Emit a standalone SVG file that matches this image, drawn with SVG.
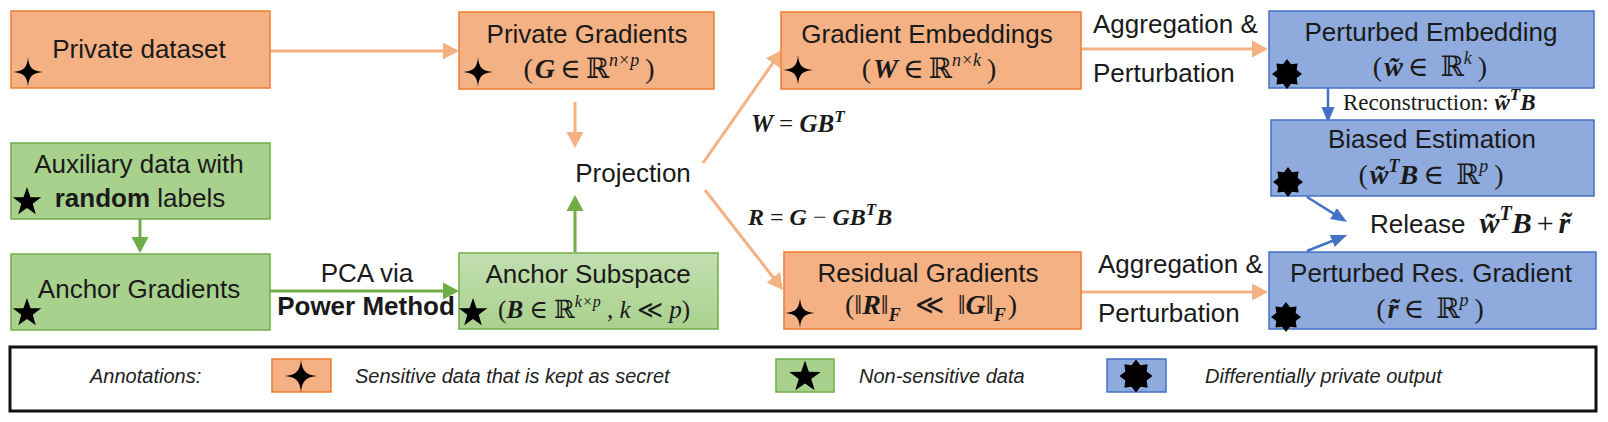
<svg xmlns="http://www.w3.org/2000/svg" width="1608" height="422" viewBox="0 0 1608 422">
<style>
.bo{fill:#F4B183;stroke:#ED7D31;stroke-width:1.5}
.bg{fill:#A9D18E;stroke:#70AD47;stroke-width:1.5}
.bb{fill:#8FAADC;stroke:#4472C4;stroke-width:1.5}
.t{font-family:"Liberation Sans",Arial,sans-serif;font-size:26px;fill:#1a1a1a}
.tb{font-weight:bold}
.m{font-family:"Liberation Serif","DejaVu Serif",serif;font-size:28px;fill:#1a1a1a}
.bi{font-weight:bold;font-style:italic}
.it{font-style:italic}
.sup{font-size:18px}
.lg{font-family:"Liberation Sans",Arial,sans-serif;font-size:20px;font-style:italic;fill:#222}
.co{stroke:#F4B183;stroke-width:3;fill:none}
.cg{stroke:#70AD47;stroke-width:3;fill:none}
.cb{stroke:#4472C4;stroke-width:2.5;fill:none}
</style>
<defs>
<marker id="ao" markerUnits="userSpaceOnUse" markerWidth="16" markerHeight="18" refX="4" refY="9" orient="auto"><path d="M0,0.5 L16,9 L0,17.5Z" fill="#F4B183"/></marker>
<marker id="ag" markerUnits="userSpaceOnUse" markerWidth="16" markerHeight="18" refX="4" refY="9" orient="auto"><path d="M0,0.5 L16,9 L0,17.5Z" fill="#70AD47"/></marker>
<marker id="ab" markerUnits="userSpaceOnUse" markerWidth="16" markerHeight="14" refX="4" refY="7" orient="auto"><path d="M0,0.5 L16,7 L0,13.5Z" fill="#4472C4"/></marker>
<linearGradient id="lgG" x1="0" y1="0" x2="0" y2="1"><stop offset="0" stop-color="#C2DFB0"/><stop offset="1" stop-color="#A9D18E"/></linearGradient>
<path id="s4" d="M0,-15 C0.8,-4.5 4.5,-0.8 15,0 C4.5,0.8 0.8,4.5 0,15 C-0.8,4.5 -4.5,0.8 -15,0 C-4.5,-0.8 -0.8,-4.5 0,-15Z" fill="#000"/>
<polygon id="s5" points="0,-15 3.53,-4.85 14.27,-4.64 5.71,1.85 8.82,12.14 0,6 -8.82,12.14 -5.71,1.85 -14.27,-4.64 -3.53,-4.85" fill="#000"/>
<polygon id="s8" points="0,-15 4.02,-9.7 10.61,-10.61 9.7,-4.02 15,0 9.7,4.02 10.61,10.61 4.02,9.7 0,15 -4.02,9.7 -10.61,10.61 -9.7,4.02 -15,0 -9.7,-4.02 -10.61,-10.61 -4.02,-9.7" fill="#000"/>
</defs>

<g id="connectors">
<line class="co" x1="270" y1="51" x2="447" y2="51" marker-end="url(#ao)"/>
<line class="co" x1="575" y1="102" x2="575" y2="136" marker-end="url(#ao)"/>
<line class="cg" x1="575" y1="252" x2="575" y2="207" marker-end="url(#ag)"/>
<line class="co" x1="703" y1="163" x2="775.1" y2="59.8" marker-end="url(#ao)"/>
<line class="co" x1="705" y1="190" x2="775.6" y2="280.5" marker-end="url(#ao)"/>
<line class="co" x1="1081" y1="49" x2="1256" y2="49" marker-end="url(#ao)"/>
<line class="co" x1="1081" y1="292" x2="1256" y2="292" marker-end="url(#ao)"/>
<line class="cb" x1="1328" y1="88" x2="1328" y2="111" marker-end="url(#ab)"/>
<line class="cb" x1="1307" y1="197" x2="1336.8" y2="215.6" marker-end="url(#ab)"/>
<line class="cb" x1="1307" y1="251" x2="1335.9" y2="239.5" marker-end="url(#ab)"/>
<line class="cg" x1="140" y1="219" x2="140" y2="241" marker-end="url(#ag)"/>
<line class="cg" x1="270" y1="291" x2="447" y2="291" marker-end="url(#ag)"/>
<text class="t" x="1093" y="33">Aggregation &amp;</text>
<text class="t" x="1093" y="82">Perturbation</text>
<text class="t" x="1098" y="273">Aggregation &amp;</text>
<text class="t" x="1098" y="322">Perturbation</text>
<text class="t" x="367" y="282" text-anchor="middle">PCA via</text>
<text class="t tb" x="366" y="315" text-anchor="middle">Power Method</text>
<text class="m bi" x="751" y="132" style="font-size:25px">W <tspan font-weight="normal" font-style="normal">=</tspan> GB<tspan style="font-size:17px" dy="-10">T</tspan></text>
<text class="m bi" x="748" y="225" style="font-size:24px">R <tspan font-weight="normal" font-style="normal">=</tspan> G <tspan font-weight="normal" font-style="normal">−</tspan> GB<tspan style="font-size:17px" dy="-10">T</tspan><tspan dy="10">B</tspan></text>
<text class="m" x="1343" y="110" style="font-size:23px">Reconstruction:  <tspan class="bi">w̃</tspan><tspan class="bi" style="font-size:17px" dy="-10">T</tspan><tspan class="bi" dy="10">B</tspan></text>
</g>

<g id="n-private-dataset">
<rect class="bo" x="11" y="11" width="259" height="77"/>
<text class="t" x="139" y="58" text-anchor="middle">Private dataset</text>
<use href="#s4" x="28" y="72"/>
</g>

<g id="n-private-gradients">
<rect class="bo" x="459" y="12" width="255" height="77"/>
<text class="t" x="587" y="43" text-anchor="middle">Private Gradients</text>
<text class="m" x="589" y="78" text-anchor="middle">(<tspan class="bi" dx="2">G</tspan><tspan dx="5">∈</tspan><tspan dx="5">ℝ</tspan><tspan class="sup it" dy="-12">n×p</tspan><tspan dy="12" dx="6">)</tspan></text>
<use href="#s4" x="478" y="72"/>
</g>

<g id="n-projection">
<text class="t" x="633" y="182" text-anchor="middle">Projection</text>
</g>

<g id="n-gradient-embeddings">
<rect class="bo" x="781" y="12" width="300" height="77"/>
<text class="t" x="927" y="43" text-anchor="middle">Gradient Embeddings</text>
<text class="m" x="929" y="78" text-anchor="middle">(<tspan class="bi" dx="2">W</tspan><tspan dx="5">∈</tspan><tspan dx="5">ℝ</tspan><tspan class="sup it" dy="-12">n×k</tspan><tspan dy="12" dx="6">)</tspan></text>
<use href="#s4" x="798" y="70"/>
</g>

<g id="n-perturbed-embedding">
<rect class="bb" x="1269" y="11" width="325" height="77"/>
<text class="t" x="1431" y="41" text-anchor="middle">Perturbed Embedding</text>
<text class="m" x="1430" y="76" text-anchor="middle">(<tspan class="bi" dx="2">w̃</tspan><tspan dx="5">∈</tspan><tspan dx="12">ℝ</tspan><tspan class="sup it" dy="-12">k</tspan><tspan dy="12" dx="6">)</tspan></text>
<use href="#s8" x="1287" y="74"/>
</g>

<g id="n-biased-estimation">
<rect class="bb" x="1271" y="120" width="323" height="76"/>
<text class="t" x="1432" y="148" text-anchor="middle">Biased Estimation</text>
<text class="m" x="1431" y="184" text-anchor="middle">(<tspan class="bi" dx="2">w̃</tspan><tspan class="bi sup" dy="-12">T</tspan><tspan class="bi" dy="12">B</tspan><tspan dx="5">∈</tspan><tspan dx="12">ℝ</tspan><tspan class="sup it" dy="-12">p</tspan><tspan dy="12" dx="6">)</tspan></text>
<use href="#s8" x="1288" y="182"/>
</g>

<g id="n-release">
<text x="1370" y="233"><tspan class="t" style="font-size:26px">Release</tspan><tspan class="m bi" style="font-size:30px" dx="14">w̃</tspan><tspan class="m bi" style="font-size:20px" dy="-13">T</tspan><tspan class="m bi" style="font-size:30px" dy="13">B</tspan><tspan class="m" style="font-size:30px" dx="5">+</tspan><tspan class="m bi" style="font-size:30px" dx="5">r̃</tspan></text>
</g>

<g id="n-residual-gradients">
<rect class="bo" x="784" y="252" width="297" height="77"/>
<text class="t" x="928" y="282" text-anchor="middle">Residual Gradients</text>
<text class="m" x="931" y="314" text-anchor="middle">(‖<tspan class="bi">R</tspan>‖<tspan class="bi sup" dy="7">F</tspan><tspan dy="-7" dx="14">≪</tspan><tspan dx="14">‖</tspan><tspan class="bi">G</tspan>‖<tspan class="bi sup" dy="7">F</tspan><tspan dy="-7" dx="2">)</tspan></text>
<use href="#s4" x="800" y="313"/>
</g>

<g id="n-perturbed-res">
<rect class="bb" x="1269" y="252" width="327" height="77"/>
<text class="t" x="1431" y="282" text-anchor="middle">Perturbed Res. Gradient</text>
<text class="m" x="1430" y="318" text-anchor="middle">(<tspan class="bi" dx="2">r̃</tspan><tspan dx="5">∈</tspan><tspan dx="12">ℝ</tspan><tspan class="sup it" dy="-12">p</tspan><tspan dy="12" dx="6">)</tspan></text>
<use href="#s8" x="1286" y="317"/>
</g>

<g id="n-auxiliary">
<rect class="bg" x="11" y="143" width="259" height="76"/>
<text class="t" x="139" y="173" text-anchor="middle">Auxiliary data with</text>
<text class="t" x="140" y="207" text-anchor="middle"><tspan class="tb">random</tspan> labels</text>
<use href="#s5" x="27" y="202"/>
</g>

<g id="n-anchor-gradients">
<rect class="bg" x="11" y="254" width="259" height="76"/>
<text class="t" x="139" y="298" text-anchor="middle">Anchor Gradients</text>
<use href="#s5" x="27" y="313"/>
</g>

<g id="n-anchor-subspace">
<rect x="459" y="253" width="259" height="76" fill="url(#lgG)" stroke="#70AD47" stroke-width="1.5"/>
<text class="t" x="588" y="283" text-anchor="middle">Anchor Subspace</text>
<text class="m" x="594" y="318" text-anchor="middle" style="font-size:25px">(<tspan class="bi">B</tspan> ∈ ℝ<tspan class="it" style="font-size:16px" dy="-11">k×p</tspan><tspan dy="11"> , </tspan><tspan class="it">k</tspan> ≪ <tspan class="it">p</tspan>)</text>
<use href="#s5" x="473" y="313"/>
</g>

<g id="legend">
<rect x="10" y="347" width="1586" height="64" fill="#fff" stroke="#111" stroke-width="3"/>
<text class="lg" x="90" y="383">Annotations:</text>
<rect class="bo" x="272" y="359" width="59" height="33"/>
<use href="#s4" transform="translate(301,376) scale(1.1)"/>
<text class="lg" x="355" y="383">Sensitive data that is kept as secret</text>
<rect class="bg" x="776" y="359" width="58" height="33"/>
<use href="#s5" transform="translate(805,377) scale(1.1)"/>
<text class="lg" x="859" y="383">Non-sensitive data</text>
<rect class="bb" x="1107" y="359" width="59" height="33"/>
<use href="#s8" transform="translate(1136,376) scale(1.1)"/>
<text class="lg" x="1205" y="383">Differentially private output</text>
</g>
</svg>
